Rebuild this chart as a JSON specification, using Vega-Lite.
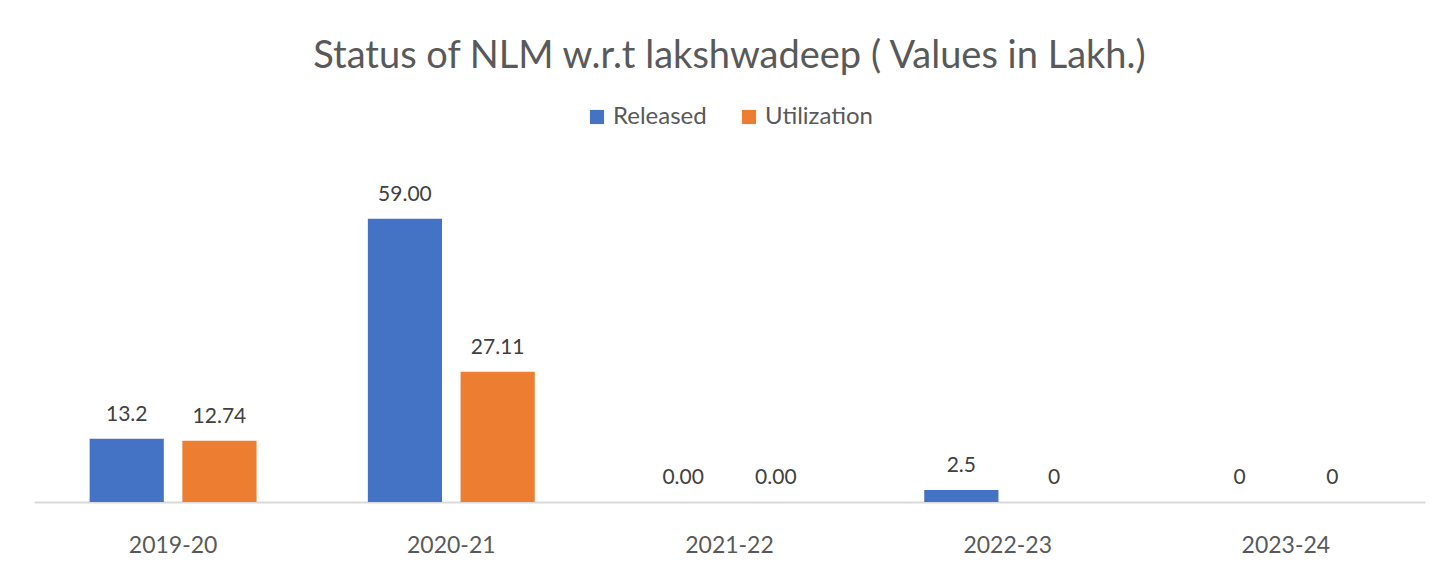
{
  "$schema": "https://vega.github.io/schema/vega-lite/v6.json",
  "width": 1391,
  "height": 336,
  "padding": {"left": 34, "top": 38, "right": 9, "bottom": 10},
  "background": "white",
  "title": {
    "text": "Status of NLM w.r.t lakshwadeep ( Values in Lakh.)",
    "font": "Lato",
    "fontSize": 38,
    "fontWeight": "normal",
    "color": "#595959",
    "anchor": "middle",
    "offset": 29
  },
  "data": {
    "values": [
      {"year": "2019-20", "series": "Released", "value": 13.2, "label": "13.2"},
      {"year": "2019-20", "series": "Utilization", "value": 12.74, "label": "12.74"},
      {"year": "2020-21", "series": "Released", "value": 59.0, "label": "59.00"},
      {"year": "2020-21", "series": "Utilization", "value": 27.11, "label": "27.11"},
      {"year": "2021-22", "series": "Released", "value": 0, "label": "0.00"},
      {"year": "2021-22", "series": "Utilization", "value": 0, "label": "0.00"},
      {"year": "2022-23", "series": "Released", "value": 2.5, "label": "2.5"},
      {"year": "2022-23", "series": "Utilization", "value": 0, "label": "0"},
      {"year": "2023-24", "series": "Released", "value": 0, "label": "0"},
      {"year": "2023-24", "series": "Utilization", "value": 0, "label": "0"}
    ]
  },
  "encoding": {
    "x": {
      "field": "year",
      "type": "nominal",
      "scale": {"paddingInner": 0.4, "paddingOuter": 0.2},
      "axis": {
        "title": null,
        "labelAngle": 0,
        "labelFont": "Lato",
        "labelFontSize": 23,
        "labelColor": "#595959",
        "labelPadding": 32,
        "ticks": false,
        "domainColor": "#D9D9D9",
        "domainWidth": 2,
        "grid": false
      }
    },
    "xOffset": {
      "field": "series",
      "type": "nominal",
      "sort": ["Released", "Utilization"],
      "scale": {"paddingInner": 0.2}
    },
    "y": {
      "field": "value",
      "type": "quantitative",
      "scale": {"domain": [0, 70]},
      "axis": null
    }
  },
  "layer": [
    {
      "mark": {"type": "bar"},
      "encoding": {
        "color": {
          "field": "series",
          "type": "nominal",
          "sort": ["Released", "Utilization"],
          "scale": {"domain": ["Released", "Utilization"], "range": ["#4472C4", "#ED7D31"]},
          "legend": {
            "title": null,
            "orient": "top",
            "direction": "horizontal",
            "symbolType": "square",
            "symbolSize": 200,
            "symbolStrokeWidth": 0,
            "labelFont": "Lato",
            "labelFontSize": 24,
            "labelColor": "#595959",
            "columnPadding": 30,
            "offset": 37
          }
        }
      }
    },
    {
      "mark": {"type": "text", "baseline": "bottom", "dy": -14, "font": "Lato", "fontSize": 21, "color": "#404040"},
      "encoding": {"text": {"field": "label"}}
    }
  ],
  "config": {
    "view": {"stroke": null},
    "legend": {"layout": {"top": {"anchor": "middle"}}}
  }
}
